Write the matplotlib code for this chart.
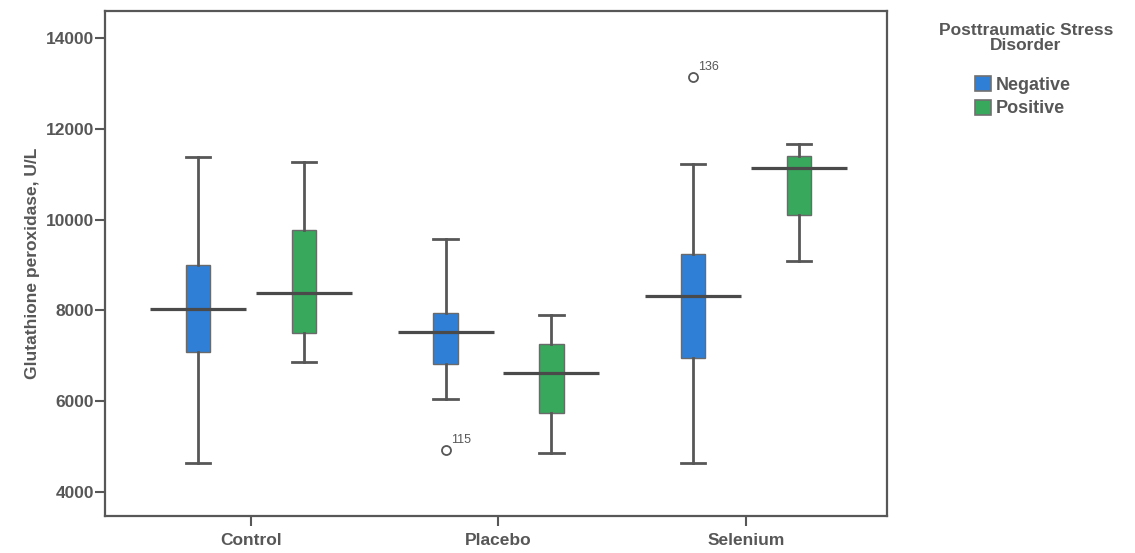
import matplotlib
matplotlib.use('Agg')
import matplotlib.pyplot as plt
from matplotlib.patches import Patch
import numpy as np

plt.rcParams['font.family'] = ['Liberation Sans', 'DejaVu Sans']

groups = ['Control', 'Placebo', 'Selenium']

# PTSD negative
neg_whislo = [4640, 6053, 4640]
neg_q1 = [7090, 6826, 6958]
neg_med = [8040, 7532, 8327]
neg_q3 = [9011, 7951, 9232]
neg_whishi = [11373, 9563, 11219]
neg_fliers = [[], [4927], [13139]]
neg_flier_ids = [[], ['115'], ['136']]

# PTSD positive
pos_whislo = [6870, 4861, 9099]
pos_q1 = [7510, 5744, 10093]
pos_med = [8393, 6627, 11130]
pos_q3 = [9762, 7267, 11395]
pos_whishi = [11263, 7907, 11660]
pos_fliers = [[], [], []]
pos_flier_ids = [[], [], []]

series = ['Negative', 'Positive']
colors = ['#2f7fd6', '#38a85c']
grey = '#575757'

fig = plt.figure(figsize=(11.35, 5.53), dpi=100)
ax = fig.add_axes([0.0925, 0.067, 0.6890, 0.913])

x = np.arange(len(groups))
offset = 0.214
box_w = 0.1
med_half = 0.194

data = [
    (neg_whislo, neg_q1, neg_med, neg_q3, neg_whishi, neg_fliers, neg_flier_ids),
    (pos_whislo, pos_q1, pos_med, pos_q3, pos_whishi, pos_fliers, pos_flier_ids),
]

for k, (wlo, q1, med, q3, whi, fl, fl_ids) in enumerate(data):
    pos = x + (k - 0.5) * 2 * offset
    stats = []
    for i in range(len(groups)):
        stats.append(dict(whislo=wlo[i], q1=q1[i], med=med[i], q3=q3[i],
                          whishi=whi[i], fliers=fl[i]))
    ax.bxp(stats, positions=pos, widths=box_w, patch_artist=True,
           showfliers=True, manage_ticks=False,
           boxprops=dict(facecolor=colors[k], edgecolor='#6a6a6a', linewidth=1.0),
           whiskerprops=dict(color=grey, linewidth=2.0),
           capprops=dict(color=grey, linewidth=2.0),
           capwidths=box_w,
           medianprops=dict(visible=False),
           flierprops=dict(marker='o', markersize=6.5, markerfacecolor='none',
                           markeredgecolor=grey, markeredgewidth=1.3),
           zorder=2)
    # long median bars
    ax.hlines(med, pos - med_half, pos + med_half, colors='#4a4a4a', linewidth=2.3, zorder=3)
    # outlier case labels
    for i in range(len(groups)):
        for v, lab in zip(fl[i], fl_ids[i]):
            ax.annotate(lab, (pos[i], v), xytext=(4, 5), textcoords='offset points',
                        fontsize=9, color=grey)

ax.set_xlim(-0.59, 2.57)
ax.set_ylim(3470, 14596)
ax.set_yticks([4000, 6000, 8000, 10000, 12000, 14000])
ax.set_xticks(x)
ax.set_xticklabels(groups)
ax.set_ylabel('Glutathione peroxidase, U/L', fontsize=12.5, fontweight='bold', color=grey, labelpad=4)

for lab in ax.get_xticklabels() + ax.get_yticklabels():
    lab.set_fontweight('bold')
    lab.set_fontsize(12.5)
    lab.set_color(grey)

ax.tick_params(axis='both', length=7, width=1.5, color=grey, direction='out')
ax.tick_params(axis='y', pad=1)
ax.tick_params(axis='x', pad=5)
for sp in ax.spines.values():
    sp.set_color(grey)
    sp.set_linewidth(1.6)

fig.text(1026 / 1135, 1 - 38 / 553, 'Posttraumatic Stress\nDisorder', ha='center', va='center',
         fontsize=12.5, fontweight='bold', color=grey, linespacing=1.0)

handles = [Patch(facecolor=colors[k], edgecolor='#707070', linewidth=1.2) for k in range(2)]
leg = fig.legend(handles, series, loc='upper center', bbox_to_anchor=(1023 / 1135, 1 - 62 / 553),
                 frameon=False, prop=dict(weight='bold', size=13),
                 handlelength=0.9, handleheight=0.9, handletextpad=0.25,
                 labelspacing=0.3, borderpad=0.3)
for t in leg.get_texts():
    t.set_color(grey)

fig.savefig('out.png', dpi=100)
